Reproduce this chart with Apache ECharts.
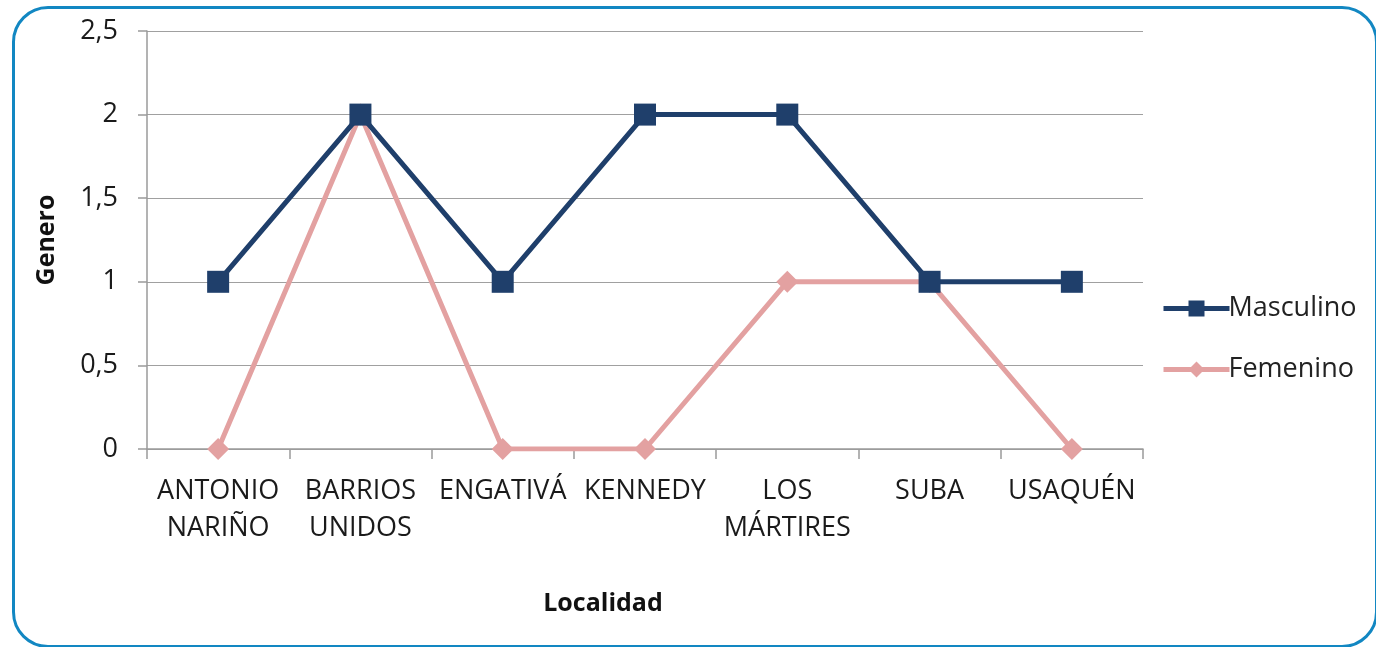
<!DOCTYPE html>
<html>
<head>
<meta charset="utf-8">
<script src="https://cdn.jsdelivr.net/npm/echarts@6/dist/echarts.min.js"></script>
<style>
html, body { margin: 0; padding: 0; background: #fff; overflow: hidden; }
.frame {
    position: absolute; left: 12px; top: 6px; width: 1366px; height: 642px;
    box-sizing: border-box; border: 3px solid #1287C2; border-radius: 36px;
}
#main { position: absolute; left: 0; top: 0; width: 1376px; height: 647px; }
</style>
</head>
<body>
<div class="frame"></div>
<div id="main"></div>
<script>
// localidades
const categories = ['ANTONIO\nNARIÑO', 'BARRIOS\nUNIDOS', 'ENGATIVÁ', 'KENNEDY', 'LOS\nMÁRTIRES', 'SUBA', 'USAQUÉN']
const masculino = [1, 2, 1, 2, 2, 1, 1]
const femenino = [0, 2, 0, 0, 1, 1, 0]

const font = '"Open Sans", "Noto Sans", sans-serif'

let myChart = echarts.init(document.getElementById('main'))
let option = {
    animation: false,
    grid: { left: 147, right: 233, top: 31, bottom: 198 },
    legend: {
        orient: 'vertical',
        left: 1156,
        top: 290,
        itemWidth: 66,
        itemHeight: 20,
        itemGap: 34,
        lineStyle: { width: 5 },
        textStyle: { fontFamily: font, fontSize: 27, color: '#222', padding: [0, 0, 0, -6] },
        data: ['Masculino', 'Femenino']
    },
    xAxis: {
        type: 'category',
        data: categories,
        name: 'Localidad',
        nameLocation: 'middle',
        nameGap: 142,
        nameTextStyle: { fontFamily: font, fontSize: 25, fontWeight: 'bold', color: '#111', padding: [0, 84, 0, 0] },
        axisLine: { lineStyle: { color: '#9a9a9a', width: 1.5 } },
        axisTick: { show: true, length: 10, lineStyle: { color: '#9a9a9a', width: 1.5 } },
        axisLabel: { fontFamily: font, fontSize: 27, color: '#1a1a1a', margin: 24, lineHeight: 37, interval: 0 }
    },
    yAxis: {
        type: 'value',
        min: 0, max: 2.5, interval: 0.5,
        name: 'Genero',
        nameLocation: 'middle',
        nameGap: 88,
        nameTextStyle: { fontFamily: font, fontSize: 25, fontWeight: 'bold', color: '#111' },
        axisLine: { show: true, lineStyle: { color: '#9a9a9a', width: 1.5 } },
        axisTick: { show: true, length: 9, lineStyle: { color: '#9a9a9a', width: 1.5 } },
        splitLine: { lineStyle: { color: '#a0a0a0', width: 1.2 } },
        axisLabel: {
            fontFamily: font, fontSize: 27, color: '#1a1a1a', margin: 29,
            formatter: v => String(v).replace('.', ',')
        }
    },
    series: [
        {
            name: 'Masculino',
            type: 'line',
            data: masculino,
            symbol: 'rect',
            symbolSize: 22,
            lineStyle: { color: '#1F3F6B', width: 5 },
            itemStyle: { color: '#1F3F6B' },
            z: 3
        },
        {
            name: 'Femenino',
            type: 'line',
            data: femenino,
            symbol: 'diamond',
            symbolSize: 22,
            lineStyle: { color: '#E3A1A1', width: 5 },
            itemStyle: { color: '#E3A1A1' },
            z: 2
        }
    ]
}
myChart.setOption(option)
</script>
</body>
</html>
